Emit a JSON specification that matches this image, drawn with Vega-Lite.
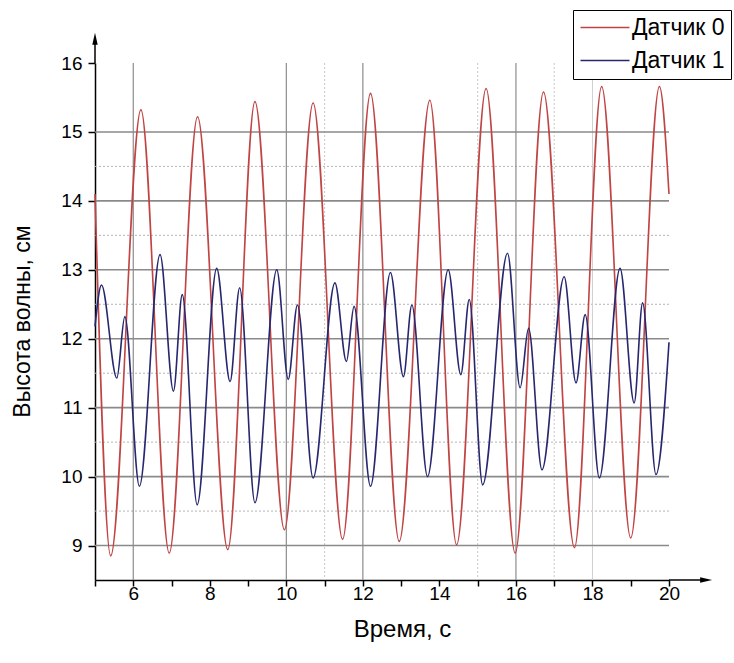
{
  "$schema": "https://vega.github.io/schema/vega-lite/v6.json",
  "width": 574,
  "height": 517,
  "autosize": {"type": "none"},
  "padding": {"left": 95, "top": 63, "right": 65, "bottom": 83},
  "background": "white",
  "config": {"view": {"stroke": null}, "font": "Liberation Sans"},
  "datasets": {
    "waves": [
      {"t": 5.00, "v": 14.10, "s": "Датчик 0"},
      {"t": 5.41, "v": 8.85, "s": "Датчик 0"},
      {"t": 6.20, "v": 15.32, "s": "Датчик 0"},
      {"t": 6.94, "v": 8.89, "s": "Датчик 0"},
      {"t": 7.68, "v": 15.22, "s": "Датчик 0"},
      {"t": 8.47, "v": 8.94, "s": "Датчик 0"},
      {"t": 9.18, "v": 15.44, "s": "Датчик 0"},
      {"t": 9.95, "v": 9.23, "s": "Датчик 0"},
      {"t": 10.70, "v": 15.42, "s": "Датчик 0"},
      {"t": 11.47, "v": 9.09, "s": "Датчик 0"},
      {"t": 12.20, "v": 15.56, "s": "Датчик 0"},
      {"t": 12.95, "v": 9.06, "s": "Датчик 0"},
      {"t": 13.75, "v": 15.46, "s": "Датчик 0"},
      {"t": 14.45, "v": 9.01, "s": "Датчик 0"},
      {"t": 15.22, "v": 15.63, "s": "Датчик 0"},
      {"t": 15.98, "v": 8.89, "s": "Датчик 0"},
      {"t": 16.72, "v": 15.58, "s": "Датчик 0"},
      {"t": 17.53, "v": 8.97, "s": "Датчик 0"},
      {"t": 18.24, "v": 15.66, "s": "Датчик 0"},
      {"t": 19.00, "v": 9.11, "s": "Датчик 0"},
      {"t": 19.75, "v": 15.66, "s": "Датчик 0"},
      {"t": 20.00, "v": 14.10, "s": "Датчик 0"},
      {"t": 5.00, "v": 12.18, "s": "Датчик 1"},
      {"t": 5.17, "v": 12.78, "s": "Датчик 1"},
      {"t": 5.57, "v": 11.43, "s": "Датчик 1"},
      {"t": 5.78, "v": 12.32, "s": "Датчик 1"},
      {"t": 6.16, "v": 9.86, "s": "Датчик 1"},
      {"t": 6.70, "v": 13.22, "s": "Датчик 1"},
      {"t": 7.05, "v": 11.24, "s": "Датчик 1"},
      {"t": 7.28, "v": 12.64, "s": "Датчик 1"},
      {"t": 7.67, "v": 9.59, "s": "Датчик 1"},
      {"t": 8.18, "v": 13.02, "s": "Датчик 1"},
      {"t": 8.53, "v": 11.38, "s": "Датчик 1"},
      {"t": 8.78, "v": 12.74, "s": "Датчик 1"},
      {"t": 9.18, "v": 9.62, "s": "Датчик 1"},
      {"t": 9.75, "v": 13.00, "s": "Датчик 1"},
      {"t": 10.05, "v": 11.41, "s": "Датчик 1"},
      {"t": 10.29, "v": 12.49, "s": "Датчик 1"},
      {"t": 10.70, "v": 9.98, "s": "Датчик 1"},
      {"t": 11.27, "v": 12.81, "s": "Датчик 1"},
      {"t": 11.57, "v": 11.67, "s": "Датчик 1"},
      {"t": 11.77, "v": 12.47, "s": "Датчик 1"},
      {"t": 12.20, "v": 9.86, "s": "Датчик 1"},
      {"t": 12.72, "v": 12.96, "s": "Датчик 1"},
      {"t": 13.06, "v": 11.45, "s": "Датчик 1"},
      {"t": 13.28, "v": 12.49, "s": "Датчик 1"},
      {"t": 13.69, "v": 10.00, "s": "Датчик 1"},
      {"t": 14.23, "v": 13.00, "s": "Датчик 1"},
      {"t": 14.56, "v": 11.48, "s": "Датчик 1"},
      {"t": 14.78, "v": 12.57, "s": "Датчик 1"},
      {"t": 15.13, "v": 9.88, "s": "Датчик 1"},
      {"t": 15.78, "v": 13.24, "s": "Датчик 1"},
      {"t": 16.11, "v": 11.29, "s": "Датчик 1"},
      {"t": 16.33, "v": 12.15, "s": "Датчик 1"},
      {"t": 16.68, "v": 10.10, "s": "Датчик 1"},
      {"t": 17.26, "v": 12.90, "s": "Датчик 1"},
      {"t": 17.57, "v": 11.36, "s": "Датчик 1"},
      {"t": 17.81, "v": 12.35, "s": "Датчик 1"},
      {"t": 18.18, "v": 9.98, "s": "Датчик 1"},
      {"t": 18.72, "v": 13.02, "s": "Датчик 1"},
      {"t": 19.09, "v": 11.07, "s": "Датчик 1"},
      {"t": 19.31, "v": 12.52, "s": "Датчик 1"},
      {"t": 19.66, "v": 10.03, "s": "Датчик 1"},
      {"t": 20.00, "v": 11.95, "s": "Датчик 1"}
    ],
    "hmajor": [{"v": 9}, {"v": 10}, {"v": 11}, {"v": 12}, {"v": 13}, {"v": 14}, {"v": 15}],
    "hminor": [{"v": 9.5}, {"v": 10.5}, {"v": 11.5}, {"v": 12.5}, {"v": 13.5}, {"v": 14.5}],
    "vmajor": [{"t": 6}, {"t": 10}, {"t": 12}, {"t": 16}],
    "vfaint": [{"t": 18}],
    "vminor": [{"t": 11}, {"t": 15}, {"t": 17}]
  },
  "layer": [
    {
      "data": {"name": "hminor"},
      "mark": {"type": "rule", "color": "#b4b4b4", "strokeWidth": 1, "strokeDash": [2, 2]},
      "encoding": {"y": {"field": "v", "type": "quantitative", "scale": {"domain": [8.5, 16], "nice": false, "zero": false}}}
    },
    {
      "data": {"name": "vminor"},
      "mark": {"type": "rule", "color": "#c8c8c8", "strokeWidth": 1, "strokeDash": [2, 2]},
      "encoding": {"x": {"field": "t", "type": "quantitative", "scale": {"domain": [5, 20], "nice": false, "zero": false}}}
    },
    {
      "data": {"name": "vfaint"},
      "mark": {"type": "rule", "color": "#cfcfcf", "strokeWidth": 1},
      "encoding": {"x": {"field": "t", "type": "quantitative", "scale": {"domain": [5, 20], "nice": false, "zero": false}}}
    },
    {
      "data": {"name": "vmajor"},
      "mark": {"type": "rule", "color": "#8c8c8c", "strokeWidth": 1.2},
      "encoding": {"x": {"field": "t", "type": "quantitative", "scale": {"domain": [5, 20], "nice": false, "zero": false}}}
    },
    {
      "data": {"name": "hmajor"},
      "mark": {"type": "rule", "color": "#8a8a8a", "strokeWidth": 1.6},
      "encoding": {"y": {"field": "v", "type": "quantitative", "scale": {"domain": [8.5, 16], "nice": false, "zero": false}}}
    },
    {
      "data": {"name": "waves"},
      "mark": {"type": "line", "interpolate": "monotone", "strokeWidth": 1.6},
      "encoding": {
        "x": {
          "field": "t", "type": "quantitative",
          "scale": {"domain": [5, 20], "nice": false, "zero": false},
          "axis": {
            "tickCount": 15,
            "labelExpr": "datum.value % 2 === 0 ? format(datum.value, 'd') : ''",
            "labelOverlap": false,
            "labelFlush": false,
            "grid": false,
            "domainColor": "black", "domainWidth": 1.5,
            "tickColor": "black", "tickWidth": 1.5, "tickSize": 6,
            "labelFont": "Liberation Sans", "labelFontSize": 19, "labelColor": "black", "labelPadding": -2,
            "title": "Время, с", "titleFont": "Liberation Sans", "titleFontSize": 24, "titleFontWeight": "normal", "titleColor": "black",
            "titleX": 307, "titleY": 49, "titleBaseline": "middle", "titleAlign": "center"
          }
        },
        "y": {
          "field": "v", "type": "quantitative",
          "scale": {"domain": [8.5, 16], "nice": false, "zero": false},
          "axis": {
            "values": [9, 9.5, 10, 10.5, 11, 11.5, 12, 12.5, 13, 13.5, 14, 14.5, 15, 15.5, 16],
            "labelExpr": "datum.value % 1 === 0 ? format(datum.value, 'd') : ''",
            "labelOverlap": false,
            "grid": false,
            "domainColor": "black", "domainWidth": 1.5,
            "tickColor": "black", "tickWidth": 1.5, "tickSize": 7,
            "labelFont": "Liberation Sans", "labelFontSize": 19, "labelColor": "black", "labelPadding": 6,
            "title": "Высота волны, см", "titleFont": "Liberation Sans", "titleFontSize": 23, "titleFontWeight": "normal", "titleColor": "black",
            "titleX": -73, "titleY": 258, "titleAngle": -90, "titleBaseline": "middle", "titleAlign": "center"
          }
        },
        "color": {
          "field": "s", "type": "nominal",
          "scale": {"domain": ["Датчик 0", "Датчик 1"], "range": ["#c04444", "#27276f"]},
          "legend": {
            "orient": "none", "legendX": 478, "legendY": -53,
            "title": null,
            "strokeColor": "black", "fillColor": "white", "padding": 6,
            "symbolType": "M-1,0H3.9", "symbolSize": 400, "symbolStrokeWidth": 1.5,
            "labelFont": "Liberation Sans", "labelFontSize": 23, "labelColor": "black", "labelOffset": 30,
            "rowPadding": 9
          }
        }
      }
    },
    {
      "data": {"values": [{}]},
      "mark": {"type": "rule", "color": "black", "strokeWidth": 1.5},
      "encoding": {"x": {"datum": 5}, "y": {"datum": 16}, "y2": {"datum": 16.36}}
    },
    {
      "data": {"values": [{}]},
      "mark": {"type": "rule", "color": "black", "strokeWidth": 1.5},
      "encoding": {"x": {"datum": 20}, "x2": {"datum": 20.97}, "y": {"datum": 8.5}}
    },
    {
      "data": {"values": [{}]},
      "mark": {"type": "point", "shape": "M0,-1L0.45,1L-0.45,1Z", "filled": true, "color": "black", "size": 144, "opacity": 1},
      "encoding": {"x": {"datum": 5}, "y": {"datum": 16.35}}
    },
    {
      "data": {"values": [{}]},
      "mark": {"type": "point", "shape": "M1,0L-1,0.45L-1,-0.45Z", "filled": true, "color": "black", "size": 144, "opacity": 1},
      "encoding": {"x": {"datum": 20.97}, "y": {"datum": 8.5}}
    }
  ]
}
